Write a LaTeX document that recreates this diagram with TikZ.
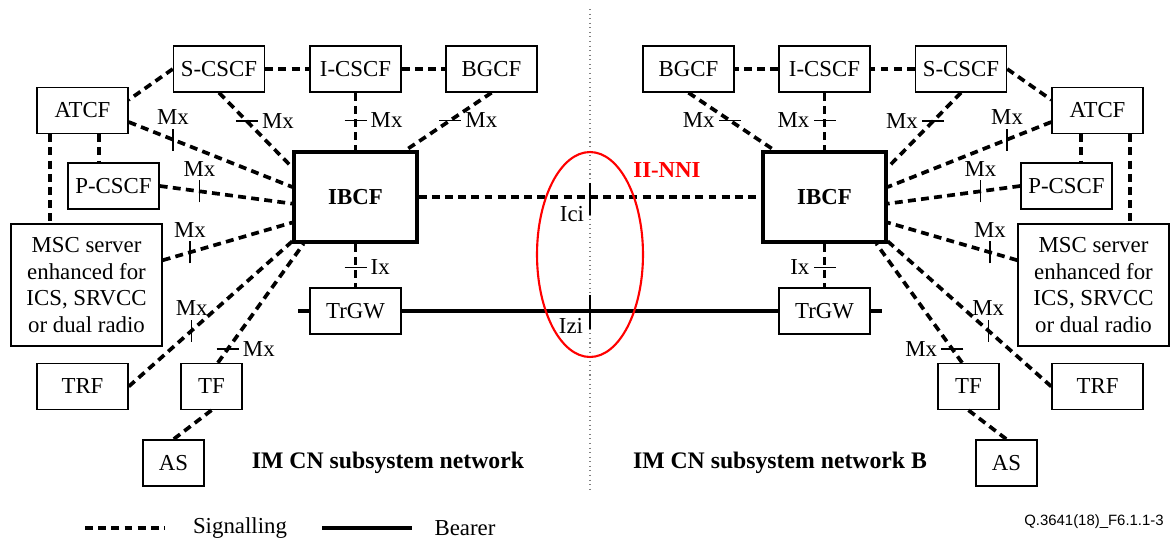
\documentclass[tikz,border=0pt]{standalone}
\usepackage{fontspec}
\setmainfont{Liberation Serif}
\newfontfamily\reffont{Liberation Sans}
\usepackage{xcolor}
\usepackage{tikz}
\usetikzlibrary{positioning,calc}

\begin{document}
\begin{tikzpicture}[x=0.02cm, y=-0.02cm,
    box/.style={draw, line width=0.85pt, minimum width=1.82cm, minimum height=0.92cm,
      inner sep=1pt, font=\fontsize{13}{15}\selectfont},
    smallbox/.style={box, minimum width=1.22cm},
    ibcfbox/.style={box, line width=1.9pt, minimum width=2.46cm, minimum height=1.8cm,
      font=\fontsize{13}{15}\selectfont\bfseries},
    mscbox/.style={box, minimum width=3.02cm, minimum height=2.44cm, align=center,
      font=\fontsize{13}{15.3}\selectfont},
    sig/.style={line width=2.1pt, dash pattern=on 4.5pt off 3pt},
    bearer/.style={line width=1.9pt},
    ifmark/.style={line width=0.8pt},
    lbl/.style={inner sep=2pt, font=\fontsize{13}{15}\selectfont},
  ]
      \useasboundingbox (0,0) rectangle (1171,542);

      % border between the two networks
      \coordinate (dtop) at (590,9);
      \coordinate (dbot) at (590,493);
      \draw [gray, dotted, line width=0.6pt] (dtop) -- (dbot);

      % network A
      \node [box] (SCSCF) at (219,69) {S-CSCF};
      \node [box] (ICSCF) at (355.5,69) {I-CSCF};
      \node [box] (BGCF) at (491.5,69) {BGCF};
      \node [box] (ATCF) at (82.5,110.5) {ATCF};
      \node [box] (PCSCF) at (113.5,186) {P-CSCF};
      \node [ibcfbox] (IBCF) at (355.5,197) {IBCF};
      \node [mscbox] (MSC) at (86.5,285) {MSC server\\enhanced for\\ICS, SRVCC\\or dual radio};
      \node [box] (TrGW) at (355.5,311) {TrGW};
      \node [box] (TRF) at (82.5,386.5) {TRF};
      \node [smallbox] (TF) at (211.5,386.5) {TF};
      \node [smallbox] (AS) at (173.5,463) {AS};

      % network B
      \node [box] (SCSCFB) at (961,69) {S-CSCF};
      \node [box] (ICSCFB) at (824.5,69) {I-CSCF};
      \node [box] (BGCFB) at (688.5,69) {BGCF};
      \node [box] (ATCFB) at (1097.5,110.5) {ATCF};
      \node [box] (PCSCFB) at (1066.5,186) {P-CSCF};
      \node [ibcfbox] (IBCFB) at (824.5,197) {IBCF};
      \node [mscbox] (MSCB) at (1093.5,285) {MSC server\\enhanced for\\ICS, SRVCC\\or dual radio};
      \node [box] (TrGWB) at (824.5,311) {TrGW};
      \node [box] (TRFB) at (1097.5,386.5) {TRF};
      \node [smallbox] (TFB) at (968.5,386.5) {TF};
      \node [smallbox] (ASB) at (1006.5,463) {AS};

      % signalling in network A
      \draw [sig] (SCSCF) -- (ICSCF);
      \draw [sig] (ICSCF) -- (BGCF);
      \draw [sig] (SCSCF.west) -- (ATCF.13);
      \draw [sig] (ATCF.305) -- (ATCF.305 |- PCSCF.north);
      \draw [sig] (ATCF.216) -- (ATCF.216 |- MSC.north);
      \draw [sig] (SCSCF.south) -- coordinate [pos=0.38] (mx1) (IBCF.155);
      \draw [sig] (ICSCF.south) -- coordinate [pos=0.48] (mx2) (IBCF.north);
      \draw [sig] (BGCF.south) -- coordinate [pos=0.48] (mx3) (IBCF.43);
      \draw [sig] (ATCF.346) -- coordinate [pos=0.27] (mx4) (IBCF.171);
      \draw [sig] (PCSCF.east) -- coordinate [pos=0.30] (mx5) (IBCF.186);
      \draw [sig] (MSC.18) -- coordinate [pos=0.21] (mx6) (IBCF.202);
      \draw [sig] (TRF.east) -- coordinate [pos=0.385] (mx7) (IBCF.215);
      \draw [sig] (TF.75) -- coordinate [pos=0.115] (mx8) (IBCF.222);
      \draw [sig] (TF.south) -- (AS.north);
      \draw [sig] (IBCF.south) -- coordinate [pos=0.54] (ix) (TrGW.north);

      % signalling in network B
      \draw [sig] (SCSCFB) -- (ICSCFB);
      \draw [sig] (ICSCFB) -- (BGCFB);
      \draw [sig] (SCSCFB.east) -- (ATCFB.167);
      \draw [sig] (ATCFB.235) -- (ATCFB.235 |- PCSCFB.north);
      \draw [sig] (ATCFB.324) -- (ATCFB.324 |- MSCB.north);
      \draw [sig] (SCSCFB.south) -- coordinate [pos=0.38] (mxb1) (IBCFB.25);
      \draw [sig] (ICSCFB.south) -- coordinate [pos=0.48] (mxb2) (IBCFB.north);
      \draw [sig] (BGCFB.south) -- coordinate [pos=0.48] (mxb3) (IBCFB.137);
      \draw [sig] (ATCFB.194) -- coordinate [pos=0.27] (mxb4) (IBCFB.9);
      \draw [sig] (PCSCFB.west) -- coordinate [pos=0.30] (mxb5) (IBCFB.354);
      \draw [sig] (MSCB.162) -- coordinate [pos=0.21] (mxb6) (IBCFB.338);
      \draw [sig] (TRFB.west) -- coordinate [pos=0.385] (mxb7) (IBCFB.325);
      \draw [sig] (TFB.105) -- coordinate [pos=0.115] (mxb8) (IBCFB.318);
      \draw [sig] (TFB.south) -- (ASB.north);
      \draw [sig] (IBCFB.south) -- coordinate [pos=0.54] (ixb) (TrGWB.north);

      % between the networks
      \draw [sig] (IBCF.east) -- coordinate (ici) (IBCFB.west);
      \coordinate (bstubA) at (298,311);
      \coordinate (bstubB) at (882,311);
      \draw [bearer] (bstubA) -- (TrGW.west);
      \draw [bearer] (TrGW.east) -- coordinate (izi) (TrGWB.west);
      \draw [bearer] (TrGWB.east) -- (bstubB);

      % reference points A
      \draw [ifmark] (mx1) ++(-11,0) -- ++(22,0) node [lbl, right] {Mx};
      \draw [ifmark] (mx2) ++(-11,0) -- ++(22,0) node [lbl, right] {Mx};
      \draw [ifmark] (mx3) ++(-11,0) -- ++(22,0) node [lbl, right] {Mx};
      \draw [ifmark] (mx4) ++(0,11) -- ++(0,-22) node [lbl, above] {Mx};
      \draw [ifmark] (mx5) ++(0,11) -- ++(0,-22) node [lbl, above] {Mx};
      \draw [ifmark] (mx6) ++(0,11) -- ++(0,-22) node [lbl, above] {Mx};
      \draw [ifmark] (mx7) ++(0,11) -- ++(0,-22) node [lbl, above] {Mx};
      \draw [ifmark] (mx8) ++(-11,0) -- ++(22,0) node [lbl, right] {Mx};
      \draw [ifmark] (ix) ++(-11,0) -- ++(22,0) node [lbl, right] {Ix};

      % reference points B
      \draw [ifmark] (mxb1) ++(11,0) -- ++(-22,0) node [lbl, left] {Mx};
      \draw [ifmark] (mxb2) ++(11,0) -- ++(-22,0) node [lbl, left] {Mx};
      \draw [ifmark] (mxb3) ++(11,0) -- ++(-22,0) node [lbl, left] {Mx};
      \draw [ifmark] (mxb4) ++(0,11) -- ++(0,-22) node [lbl, above] {Mx};
      \draw [ifmark] (mxb5) ++(0,11) -- ++(0,-22) node [lbl, above] {Mx};
      \draw [ifmark] (mxb6) ++(0,11) -- ++(0,-22) node [lbl, above] {Mx};
      \draw [ifmark] (mxb7) ++(0,11) -- ++(0,-22) node [lbl, above] {Mx};
      \draw [ifmark] (mxb8) ++(11,0) -- ++(-22,0) node [lbl, left] {Mx};
      \draw [ifmark] (ixb) ++(11,0) -- ++(-22,0) node [lbl, left] {Ix};

      % II-NNI
      \draw [ifmark] (ici) ++(0,-14) -- ++(0,32);
      \draw [ifmark] (izi) ++(0,-16) -- ++(0,34);
      \node [lbl] (icilbl) at ($(ici)+(-18,17)$) {Ici};
      \node [lbl] (izilbl) at ($(izi)+(-19,15)$) {Izi};
      \draw [red, line width=1.2pt] (590,254.5) ellipse [x radius=1.06cm, y radius=2.05cm];
      \node [lbl, red, font=\fontsize{13}{15}\selectfont\bfseries] (nni) at (667,170) {II-NNI};

      \node [font=\fontsize{13.5}{15}\selectfont\bfseries] (netA) at (388,463) {IM CN subsystem network};
      \node [font=\fontsize{13.5}{15}\selectfont\bfseries] (netB) at (780,463) {IM CN subsystem network B};

      % legend
      \coordinate (lgsA) at (85,528);
      \coordinate (lgsB) at (165,528);
      \coordinate (lgbA) at (322,528);
      \coordinate (lgbB) at (412,528);
      \draw [sig] (lgsA) -- (lgsB);
      \draw [bearer] (lgbA) -- (lgbB);
      \node [lbl] (lgsig) at (240,528) {Signalling};
      \node [lbl] (lgbear) at (465,528) {Bearer};
      \node [font=\reffont\fontsize{8.5}{10}\selectfont] (fignum) at (1094,522) {Q.3641(18)\_F6.1.1-3};
\end{tikzpicture}
\end{document}
